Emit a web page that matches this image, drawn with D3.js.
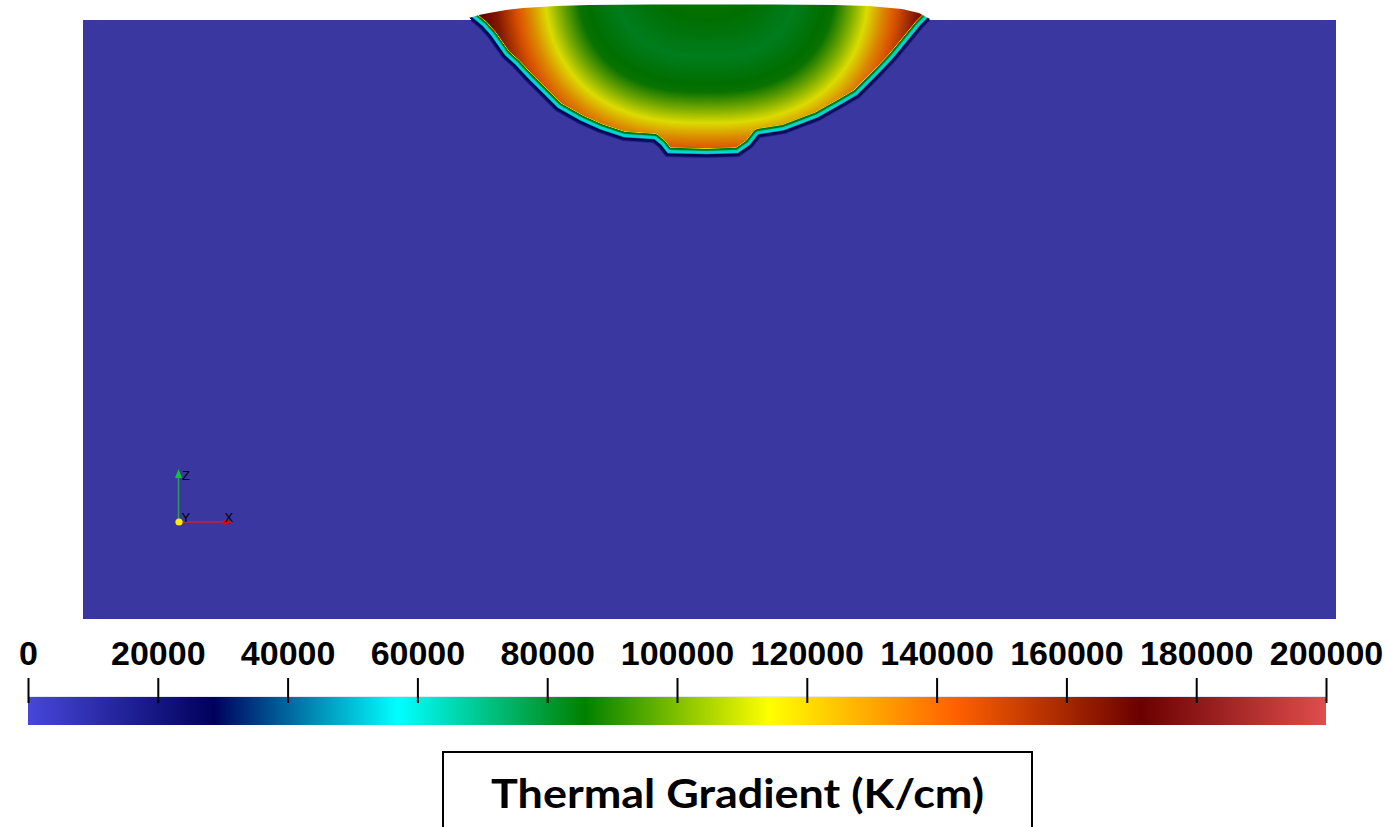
<!DOCTYPE html>
<html><head><meta charset="utf-8">
<script src="https://cdn.jsdelivr.net/npm/d3@7"></script>
<style>html,body{margin:0;padding:0;background:#fff;overflow:hidden}</style>
</head><body>
<svg id="chart" width="1385" height="827" xmlns="http://www.w3.org/2000/svg"></svg>
<script>
// ---------------- data ----------------
const colorbarTicks = [0, 20000, 40000, 60000, 80000, 100000, 120000, 140000, 160000, 180000, 200000];
const valueExtent = [0, 200000];
// ParaView "Rainbow Desaturated" colour map (position in range, colour)
const cmapStops = [0, 0.143, 0.285, 0.429, 0.571, 0.714, 0.857, 1];
const cmapColors = ["#4747db", "#00005c", "#00ffff", "#008000", "#ffff00", "#ff6100", "#6b0000", "#e04d4d"];
// computational domain (µm): width, depth
const domainWidth = [0, 1250];
const domainDepth = [0, 600];
// melt-pool bottom boundary (x, depth) µm
const poolBottom = [[385,-2],[397,8],[405,17],[419,37],[430,47],[442,60],[459,77],[472,90],[495,103],[515,112],[539,120],[569,122],[575,127],[582,136],[622,137],[654,136],[667,127],[675,117],[700,113],[734,100],[757,87],[774,77],[794,57],[810,40],[824,23],[837,7],[845,-1]];
// melt-pool free surface (x, depth) µm (negative = above the substrate)
const poolTop = [[385,-2],[395,-5],[405,-7],[422,-10],[439,-12],[472,-14],[505,-15],[567,-15.5],[622,-15.5],[687,-15.5],[750,-15],[784,-14],[817,-11],[834,-7],[845,-1]];
// iso-contour shape of the gradient field inside the pool
const fieldCenter = [622, -50];
const fieldRadii = [162, 153];
const fieldExponent = 2.5;
// gradient vs normalised contour level
const levelE = [0, 0.3, 0.57, 0.8, 0.9, 1.0, 1.1, 1.2, 1.3, 1.45, 1.6];
const levelValues = [88000, 86000, 82000, 87000, 100000, 114000, 132000, 147000, 163000, 175000, 176000];
// thin edge band of the pool (distance inside boundary in µm -> K/cm)
const bandDist = [0, 2, 3, 3.6, 5.4, 6.4, 7.6];
const bandValues = [22000, 28600, 52000, 57000, 60000, 80000, 86000];
const titleText = "Thermal Gradient (K/cm)";

// ---------------- drawing ----------------
const svg = d3.select("#chart");
const x = d3.scaleLinear().domain(domainWidth).range([83, 1336]);
const z = d3.scaleLinear().domain(domainDepth).range([20, 619]);
const bgColor = "#3a38a0";
const shade = 0.86;

const defs = svg.append("defs");

svg.append("rect")
  .attr("x", x(domainWidth[0])).attr("y", z(domainDepth[0]))
  .attr("width", x(domainWidth[1]) - x(domainWidth[0]))
  .attr("height", z(domainDepth[1]) - z(domainDepth[0]))
  .attr("fill", bgColor);

// colour LUT
const vScale = d3.scaleLinear().domain(cmapStops.map(s => valueExtent[0] + s * (valueExtent[1] - valueExtent[0])))
  .range(cmapColors).interpolate(d3.interpolateRgb).clamp(true);
const LUTN = 2048;
const lut = new Array(LUTN);
for (let i = 0; i < LUTN; i++) {
  const c = d3.rgb(vScale(valueExtent[0] + (i / (LUTN - 1)) * (valueExtent[1] - valueExtent[0])));
  lut[i] = [c.r, c.g, c.b];
}
function colorOf(v) {
  let t = (v - valueExtent[0]) / (valueExtent[1] - valueExtent[0]);
  t = Math.max(0, Math.min(1, t));
  return lut[Math.round(t * (LUTN - 1))];
}

const bottomPx = poolBottom.map(([a, b]) => [x(a), z(b)]);
const topPx = poolTop.map(([a, b]) => [x(a), z(b)]);
const poolPx = bottomPx.concat(topPx.slice().reverse().slice(1, -1));
const insidePoly = bottomPx.concat([[bottomPx[bottomPx.length - 1][0], -200], [bottomPx[0][0], -200]]);
const C = [x(fieldCenter[0]), z(fieldCenter[1])];
const ra = x(fieldRadii[0]) - x(0), rb = z(fieldRadii[1]) - z(0);
const pxPerUnit = x(1) - x(0);

const levelScale = d3.scaleLinear().domain(levelE).range(levelValues).clamp(true);
const bandScale = d3.scaleLinear().domain(bandDist.map(d => d * pxPerUnit)).range(bandValues).clamp(true);

function segDist(px, py, a, b) {
  const vx = b[0] - a[0], vy = b[1] - a[1];
  const wx = px - a[0], wy = py - a[1];
  const L = vx * vx + vy * vy;
  let t = L ? (wx * vx + wy * vy) / L : 0;
  t = Math.max(0, Math.min(1, t));
  const dx = px - (a[0] + t * vx), dy = py - (a[1] + t * vy);
  return Math.sqrt(dx * dx + dy * dy);
}
function polyDist(px, py) {
  let m = Infinity;
  for (let k = 0; k < bottomPx.length - 1; k++) {
    const d = segDist(px, py, bottomPx[k], bottomPx[k + 1]);
    if (d < m) m = d;
  }
  return m;
}

const xs = poolPx.map(p => p[0]), ys = poolPx.map(p => p[1]);
const bx0 = Math.floor(d3.min(xs)) - 4, bx1 = Math.ceil(d3.max(xs)) + 4;
const by0 = 0, by1 = Math.ceil(d3.max(ys)) + 4;
const cw = bx1 - bx0, ch = by1 - by0;
const canvas = document.createElement("canvas");
canvas.width = cw; canvas.height = ch;
const ctx = canvas.getContext("2d");
const img = ctx.createImageData(cw, ch);
const bgc = d3.rgb(bgColor);
const navy = colorOf(bandValues[0]).map(c => c * shade);
const topY = z(domainDepth[0]);
const bEnd = bandDist[bandDist.length - 1] * pxPerUnit, bBlend = bEnd + 1.2;

for (let j = 0; j < ch; j++) {
  for (let i = 0; i < cw; i++) {
    const px = bx0 + i + 0.5, py = by0 + j + 0.5;
    const o = 4 * (j * cw + i);
    const dmin = polyDist(px, py);
    const inside = d3.polygonContains(insidePoly, [px, py]);
    if (!inside) {
      if (py >= topY) {
        const f = Math.min(1, dmin / 1.8);
        img.data[o] = navy[0] * (1 - f) + bgc.r * f;
        img.data[o + 1] = navy[1] * (1 - f) + bgc.g * f;
        img.data[o + 2] = navy[2] * (1 - f) + bgc.b * f;
        img.data[o + 3] = 255;
      } else img.data[o + 3] = 0;
      continue;
    }
    const ex = Math.abs(px - C[0]) / ra, ey = Math.abs(py - C[1]) / rb;
    const e = Math.pow(Math.pow(ex, fieldExponent) + Math.pow(ey, fieldExponent), 1 / fieldExponent);
    const vi = levelScale(e);
    let v;
    if (dmin < bEnd) v = bandScale(dmin);
    else if (dmin < bBlend) { const f = (dmin - bEnd) / (bBlend - bEnd); v = bandValues[bandValues.length - 1] * (1 - f) + vi * f; }
    else v = vi;
    const c = colorOf(v);
    img.data[o] = c[0] * shade;
    img.data[o + 1] = c[1] * shade;
    img.data[o + 2] = c[2] * shade;
    img.data[o + 3] = 255;
  }
}
ctx.putImageData(img, 0, 0);

const clip = defs.append("clipPath").attr("id", "poolclip");
clip.append("rect")
  .attr("x", x(domainWidth[0])).attr("y", z(domainDepth[0]))
  .attr("width", x(domainWidth[1]) - x(domainWidth[0]))
  .attr("height", z(domainDepth[1]) - z(domainDepth[0]));
clip.append("path").attr("d", d3.line()(poolPx) + "Z");

svg.append("image")
  .attr("x", bx0).attr("y", by0).attr("width", cw).attr("height", ch)
  .attr("preserveAspectRatio", "none")
  .attr("href", canvas.toDataURL())
  .attr("clip-path", "url(#poolclip)");

// ---------- orientation triad ----------
const ox = 178.5, oy = 522;
const tri = svg.append("g");
tri.append("line").attr("x1", ox).attr("y1", oy).attr("x2", ox).attr("y2", 478)
  .attr("stroke", "#2e9a52").attr("stroke-width", 1.6);
tri.append("path").attr("d", `M${ox - 3.5},478 L${ox},469 L${ox + 3.5},478 Z`).attr("fill", "#12c81e");
tri.append("line").attr("x1", ox).attr("y1", oy).attr("x2", 223).attr("y2", oy)
  .attr("stroke", "#c8203a").attr("stroke-width", 1.6);
tri.append("path").attr("d", `M223,${oy - 3.5} L233,${oy} L223,${oy + 3.5} Z`).attr("fill", "#dc0a0a");
tri.append("circle").attr("cx", ox + 0.5).attr("cy", oy).attr("r", 3.6).attr("fill", "#f4f000");
tri.selectAll("text.lab").data([["Z", 182, 480], ["Y", 181.5, 522], ["X", 224.5, 522]])
  .join("text").attr("class", "lab")
  .attr("x", d => d[1]).attr("y", d => d[2]).text(d => d[0])
  .attr("font-family", "Liberation Sans, Arial, sans-serif").attr("font-size", 13).attr("fill", "#000");

// ---------- colour bar ----------
const cb = d3.scaleLinear().domain(valueExtent).range([28, 1326]);
const grad = defs.append("linearGradient").attr("id", "cbgrad").attr("x1", "0").attr("x2", "1").attr("y1", "0").attr("y2", "0");
grad.selectAll("stop").data(cmapStops).join("stop")
  .attr("offset", d => d).attr("stop-color", (d, i) => cmapColors[i]);
svg.append("rect").attr("x", cb(valueExtent[0])).attr("y", 696)
  .attr("width", cb(valueExtent[1]) - cb(valueExtent[0])).attr("height", 29)
  .attr("fill", "url(#cbgrad)");
svg.append("line").attr("x1", cb(valueExtent[0])).attr("x2", cb(valueExtent[1]))
  .attr("y1", 696.5).attr("y2", 696.5).attr("stroke", "#e8e8f4").attr("stroke-width", 1);

const axis = d3.axisTop(cb).tickValues(colorbarTicks).tickSize(25).tickPadding(13).tickFormat(d3.format("d"));
const ag = svg.append("g").attr("transform", "translate(0,703)").call(axis);
ag.select(".domain").remove();
ag.selectAll(".tick line").attr("stroke", "#000").attr("stroke-width", 2);
ag.selectAll(".tick text")
  .attr("fill", "#000")
  .attr("font-family", "Liberation Sans, Arial, sans-serif")
  .attr("font-weight", "bold")
  .attr("font-size", 34);

// ---------- title box ----------
svg.append("rect").attr("x", 443).attr("y", 752).attr("width", 589).attr("height", 110)
  .attr("fill", "#fff").attr("stroke", "#000").attr("stroke-width", 2);
svg.append("text").attr("x", 737.5).attr("y", 808).attr("text-anchor", "middle")
  .attr("font-family", "Lato, 'Open Sans', sans-serif").attr("font-weight", "bold")
  .attr("font-size", 41).attr("textLength", 493).attr("lengthAdjust", "spacingAndGlyphs")
  .attr("fill", "#000").text(titleText);
</script>
</body></html>
